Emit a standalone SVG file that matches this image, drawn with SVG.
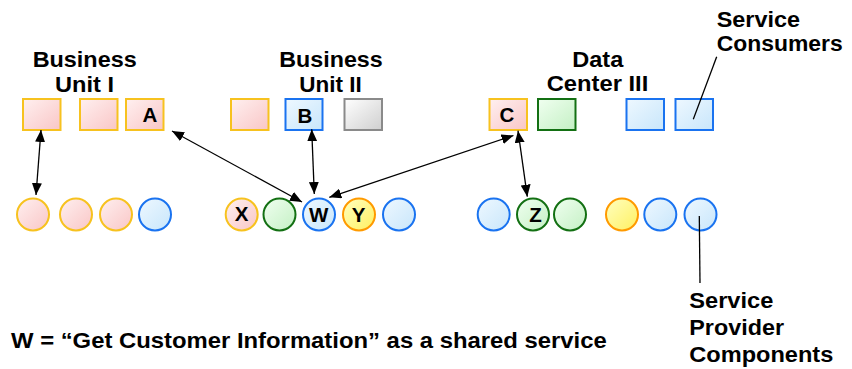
<svg xmlns="http://www.w3.org/2000/svg" width="852" height="369" viewBox="0 0 852 369">
  <defs>
    <linearGradient id="gPink" x1="0" y1="0" x2="1" y2="1">
      <stop offset="0" stop-color="#fff0f0"/>
      <stop offset="1" stop-color="#f9c6c6"/>
    </linearGradient>
    <linearGradient id="gBlue" x1="0" y1="0" x2="1" y2="1">
      <stop offset="0" stop-color="#eef8ff"/>
      <stop offset="1" stop-color="#c8e6fb"/>
    </linearGradient>
    <linearGradient id="gGreen" x1="0" y1="0" x2="1" y2="1">
      <stop offset="0" stop-color="#f0fff0"/>
      <stop offset="1" stop-color="#c4f0c4"/>
    </linearGradient>
    <linearGradient id="gGray" x1="0" y1="0" x2="1" y2="1">
      <stop offset="0" stop-color="#ffffff"/>
      <stop offset="1" stop-color="#cfcfcf"/>
    </linearGradient>
    <linearGradient id="gYellow" x1="0" y1="0" x2="1" y2="1">
      <stop offset="0" stop-color="#ffffc0"/>
      <stop offset="1" stop-color="#fff060"/>
    </linearGradient>
    <marker id="arr" viewBox="0 0 12 10" refX="12" refY="5" markerWidth="12" markerHeight="10" markerUnits="userSpaceOnUse" orient="auto-start-reverse">
      <path d="M0,0 L12,5 L0,10 Z" fill="#000"/>
    </marker>
  </defs>
  <style>
    text { font-family: "Liberation Sans", Arial, sans-serif; font-weight: bold; fill: #000; }
    .lbl { font-size: 22px; }
    .ltr { font-size: 20.5px; text-anchor: middle; }
    .pink { fill: url(#gPink); stroke: #f7c21f; stroke-width: 2; }
    .blue { fill: url(#gBlue); stroke: #1a73f0; stroke-width: 2; }
    .green { fill: url(#gGreen); stroke: #137013; stroke-width: 2; }
    .gray { fill: url(#gGray); stroke: #8a8a8a; stroke-width: 2; }
    .yellow { fill: url(#gYellow); stroke: #ff9a00; stroke-width: 2; }
    .conn { stroke: #000; stroke-width: 1.3; fill: none; marker-start: url(#arr); marker-end: url(#arr); }
    .callout { stroke: #000; stroke-width: 1.3; fill: none; }
  </style>

  <!-- group headings -->
  <g id="heading-bu1">
    <text class="lbl" x="32.7" y="66.7" textLength="104" lengthAdjust="spacingAndGlyphs">Business</text>
    <text class="lbl" x="55" y="91.7" textLength="59" lengthAdjust="spacingAndGlyphs">Unit I</text>
  </g>
  <g id="heading-bu2">
    <text class="lbl" x="279.3" y="66.7" textLength="103.4" lengthAdjust="spacingAndGlyphs">Business</text>
    <text class="lbl" x="299.3" y="91.7" textLength="62.4" lengthAdjust="spacingAndGlyphs">Unit II</text>
  </g>
  <g id="heading-dc3">
    <text class="lbl" x="572.3" y="66.7" textLength="51" lengthAdjust="spacingAndGlyphs">Data</text>
    <text class="lbl" x="546.7" y="90.7" textLength="101.6" lengthAdjust="spacingAndGlyphs">Center III</text>
  </g>
  <g id="label-consumers">
    <text class="lbl" x="716.7" y="26.7" textLength="83.3" lengthAdjust="spacingAndGlyphs">Service</text>
    <text class="lbl" x="716.7" y="50.5" textLength="126" lengthAdjust="spacingAndGlyphs">Consumers</text>
  </g>
  <g id="label-providers">
    <text class="lbl" x="689.3" y="308.3" textLength="84" lengthAdjust="spacingAndGlyphs">Service</text>
    <text class="lbl" x="689.3" y="335" textLength="94.7" lengthAdjust="spacingAndGlyphs">Provider</text>
    <text class="lbl" x="689.3" y="361.7" textLength="144" lengthAdjust="spacingAndGlyphs">Components</text>
  </g>
  <g id="note">
    <text class="lbl" x="11" y="347.7" textLength="595.7" lengthAdjust="spacingAndGlyphs">W = “Get Customer Information” as a shared service</text>
  </g>

  <!-- service consumers (squares) -->
  <g id="c-bu1-1"><rect class="pink" x="23" y="99" width="37.5" height="31"/></g>
  <g id="c-bu1-2"><rect class="pink" x="80" y="99" width="37.5" height="31"/></g>
  <g id="c-A"><rect class="pink" x="126" y="99" width="37.5" height="31"/><text class="ltr" x="150" y="122">A</text></g>
  <g id="c-bu2-1"><rect class="pink" x="231" y="99" width="37.5" height="31"/></g>
  <g id="c-B"><rect class="blue" x="285.5" y="99" width="37" height="31"/><text class="ltr" x="305" y="122.5">B</text></g>
  <g id="c-bu2-3"><rect class="gray" x="344.5" y="99" width="37.5" height="31"/></g>
  <g id="c-C"><rect class="pink" x="489.5" y="99" width="37.5" height="31"/><text class="ltr" x="507" y="122">C</text></g>
  <g id="c-dc3-2"><rect class="green" x="538" y="99" width="37.5" height="31"/></g>
  <g id="c-dc3-3"><rect class="blue" x="626.5" y="99" width="37.5" height="31"/></g>
  <g id="c-dc3-4"><rect class="blue" x="675.5" y="99" width="37.5" height="31"/></g>

  <!-- service provider components (circles) -->
  <g id="p1"><circle class="pink" cx="33" cy="214.5" r="16"/></g>
  <g id="p2"><circle class="pink" cx="76" cy="214.5" r="16"/></g>
  <g id="p3"><circle class="pink" cx="116" cy="214.5" r="16"/></g>
  <g id="p4"><circle class="blue" cx="155" cy="214.5" r="16"/></g>
  <g id="p-X"><circle class="pink" cx="241.7" cy="214.5" r="16"/><text class="ltr" x="241.7" y="220.5">X</text></g>
  <g id="p6"><circle class="green" cx="279.5" cy="214.5" r="16"/></g>
  <g id="p-W"><circle class="blue" cx="319" cy="214.5" r="16"/><text class="ltr" x="318.8" y="222">W</text></g>
  <g id="p-Y"><circle class="yellow" cx="359" cy="214.5" r="16"/><text class="ltr" x="358.5" y="222">Y</text></g>
  <g id="p9"><circle class="blue" cx="399" cy="214.5" r="16"/></g>
  <g id="p10"><circle class="blue" cx="493.7" cy="214.5" r="16"/></g>
  <g id="p-Z"><circle class="green" cx="533" cy="214.5" r="16"/><text class="ltr" x="535.5" y="222">Z</text></g>
  <g id="p12"><circle class="green" cx="570" cy="214.5" r="16"/></g>
  <g id="p13"><circle class="yellow" cx="622" cy="214.5" r="16"/></g>
  <g id="p14"><circle class="blue" cx="660.3" cy="214.5" r="16"/></g>
  <g id="p15"><circle class="blue" cx="700.5" cy="214.5" r="16"/></g>

  <!-- connectors -->
  <g id="connectors">
    <line class="conn" x1="41" y1="130" x2="36" y2="195"/>
    <line class="conn" x1="172" y1="131" x2="302" y2="202"/>
    <line class="conn" x1="311.7" y1="129.3" x2="314.3" y2="194"/>
    <line class="conn" x1="513.5" y1="135.5" x2="329.3" y2="197.3"/>
    <line class="conn" x1="518" y1="130.7" x2="527.3" y2="196.7"/>
    <line class="callout" x1="716.7" y1="56.7" x2="693.3" y2="119.3"/>
    <line class="callout" x1="699.3" y1="216" x2="700" y2="283"/>
  </g>
</svg>
